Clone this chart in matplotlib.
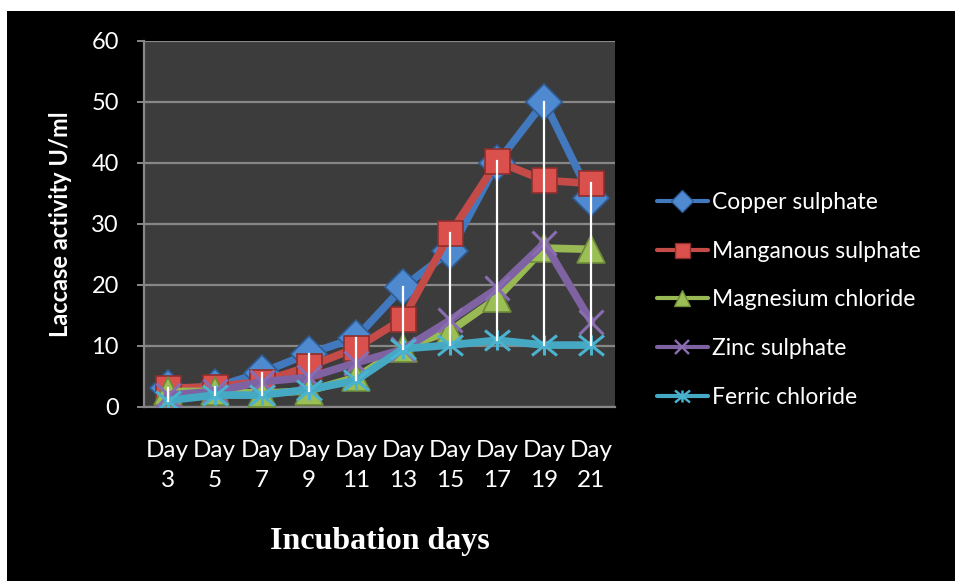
import matplotlib.pyplot as plt
from matplotlib.lines import Line2D
from matplotlib.patches import Rectangle
from matplotlib.path import Path

# laccase activity (U/ml) for each metal salt over the incubation period
days = ['Day\n3', 'Day\n5', 'Day\n7', 'Day\n9', 'Day\n11',
        'Day\n13', 'Day\n15', 'Day\n17', 'Day\n19', 'Day\n21']
copper_sulphate = [3.0, 3.2, 5.6, 8.7, 11.3, 19.6, 25.5, 40.0, 50.0, 34.2]
manganous_sulphate = [3.0, 3.3, 4.1, 6.6, 9.6, 14.4, 28.4, 40.2, 37.1, 36.6]
magnesium_chloride = [2.5, 2.5, 2.2, 2.6, 4.8, 9.7, 12.4, 17.8, 26.0, 25.8]
zinc_sulphate = [1.9, 2.5, 4.1, 4.8, 7.2, 9.4, 14.2, 19.4, 26.8, 13.9]
ferric_chloride = [1.0, 1.9, 1.9, 2.8, 4.3, 9.5, 10.1, 10.9, 10.1, 10.1]

names = ['Copper sulphate', 'Manganous sulphate', 'Magnesium chloride',
         'Zinc sulphate', 'Ferric chloride']
series = [copper_sulphate, manganous_sulphate, magnesium_chloride,
          zinc_sulphate, ferric_chloride]

# asterisk marker: vertical bar plus a wide X
star = Path([(0, -0.8), (0, 0.8), (-1, -0.8), (1, 0.8), (-1, 0.8), (1, -0.8)],
            [Path.MOVETO, Path.LINETO, Path.MOVETO, Path.LINETO, Path.MOVETO, Path.LINETO])

styles = [
    dict(color='#4279be', marker='D', mfc='#4f8ad0', mec='#2d5c96', ms=18, mew=1.2),
    dict(color='#c44b48', marker='s', mfc='#d9504c', mec='#8c2f2c', ms=18, mew=1.2),
    dict(color='#98b954', marker='^', mfc='#9bbf55', mec='#6e8a3a', ms=20, mew=1.2),
    dict(color='#7e62a1', marker='x', mfc='none', mec='#8a6cb0', ms=17, mew=2.2),
    dict(color='#46a9c4', marker=star, mfc='none', mec='#4bb2cf', ms=18, mew=2.2),
]

plt.rcParams['font.family'] = ['Lato', 'DejaVu Sans']

fig = plt.figure(figsize=(9.55, 5.81), dpi=100, facecolor='white')
fig.patches.append(Rectangle((7 / 955, 0), 1, 1 - 11 / 581, transform=fig.transFigure,
                             facecolor='black', edgecolor='none', zorder=-1))

ax = fig.add_axes([144 / 955, 1 - 406.7 / 581, 471 / 955, 366 / 581])
ax.set_facecolor('#3c3c3c')

x = list(range(len(days)))
for name, values, st in zip(names, series, styles):
    ax.plot(x, values, lw=5.5, solid_capstyle='round', solid_joinstyle='round',
            label=name, zorder=3, **st)

# high-low lines between the largest and smallest reading on each day
for i in x:
    col = [s[i] for s in series]
    ax.plot([i, i], [min(col), max(col)], color='white', lw=1.6, zorder=5)

ax.set_xlim(-0.5, len(days) - 0.5)
ax.set_ylim(0, 60)
ax.set_yticks(range(0, 61, 10))
ax.set_xticks(x)
ax.set_xticklabels(days, linespacing=1.55)
ax.yaxis.grid(True, color='#878787', lw=1.6, zorder=1)
ax.set_axisbelow(True)

for side in ['top', 'right']:
    ax.spines[side].set_visible(False)
for side in ['left', 'bottom']:
    ax.spines[side].set_color('#878787')
    ax.spines[side].set_linewidth(1.6)

ax.tick_params(axis='y', colors='#878787', labelcolor='white', labelsize=17,
               length=5, width=1.4, pad=13)
ax.tick_params(axis='x', length=0, labelcolor='white', labelsize=17.5, pad=24)

ax.set_ylabel('Laccase activity U/ml', color='white', fontsize=17,
              fontweight='bold', labelpad=14)
ax.set_xlabel('Incubation days', color='white', fontsize=23, fontweight='bold',
              family='Liberation Serif', labelpad=26)

handles = [Line2D([], [], lw=3, color=st['color'], marker=st['marker'],
                  mfc=st['mfc'], mec=st['mec'], ms=st['ms'] * 0.6,
                  mew=st['mew'] * 0.8, solid_capstyle='round')
           for st in styles]
leg = fig.legend(handles, names, loc='center left',
                 bbox_to_anchor=(648 / 955, 1 - 300 / 581),
                 frameon=False, fontsize=16.5, labelcolor='white',
                 handlelength=2.2, handletextpad=0.2, labelspacing=1.22,
                 borderaxespad=0)

plt.savefig('out.png', dpi=100, facecolor=fig.get_facecolor())
